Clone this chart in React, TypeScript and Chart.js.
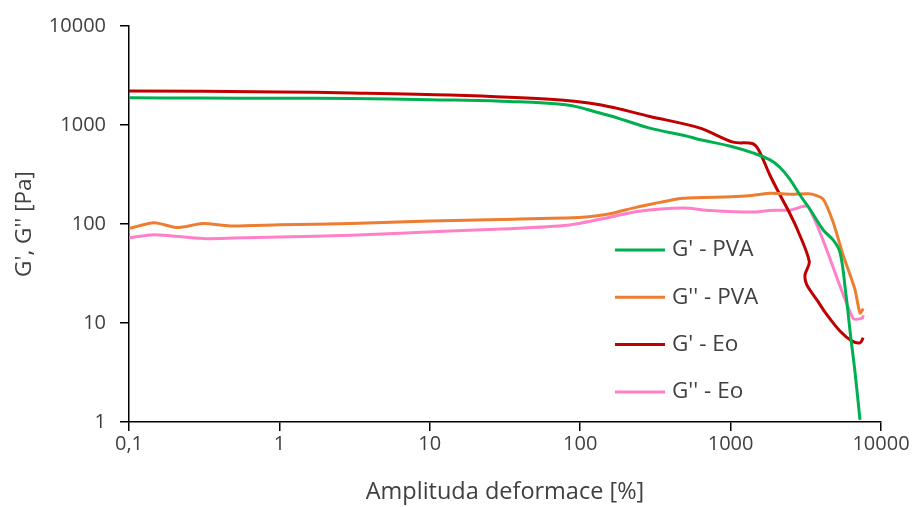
import React, { useEffect, useRef } from "react";
import { Chart, registerables } from "chart.js";

Chart.register(...registerables);

// ---- data ----
const seriesLabels = ["G' - PVA", "G'' - PVA", "G' - Eo", "G'' - Eo"];
const seriesColors = ["#00B050", "#ED7D31", "#C00000", "#FF80C8"];
const seriesTension = [0.4, 0.25, 0.3, 0.25];

const gPvaX = [0.1, 0.3, 1, 3, 10, 30, 80, 135, 200, 290, 500, 630, 1000, 1390, 1830, 2140, 2480, 2900, 3370, 4130, 4800, 5330, 5790, 6300, 6700, 7250];
const gPvaY = [1880, 1870, 1860, 1850, 1800, 1740, 1600, 1320, 1110, 930, 780, 710, 610, 525, 445, 370, 282, 195, 141, 87, 69, 52, 22, 7.1, 3.3, 1.05];

const g2PvaX = [0.1, 0.147, 0.21, 0.31, 0.47, 1, 3, 10, 30, 104, 158, 239, 483, 1000, 1390, 1830, 2500, 3300, 3650, 4130, 4800, 5590, 6700, 7250, 7620];
const g2PvaY = [90, 103, 92, 101, 95.5, 98, 101, 107, 111, 117, 127, 148, 182, 188, 194, 204, 200, 202, 196, 178, 105, 49, 22, 12.6, 14];

const gEoX = [0.1, 1, 3, 13.5, 63, 135, 291, 627, 1038, 1390, 1530, 1830, 2140, 2480, 2770, 3335, 3125, 3206, 3760, 4300, 5330, 6390, 7250, 7620];
const gEoY = [2210, 2160, 2110, 2010, 1820, 1600, 1220, 930, 671, 650, 566, 309, 194, 127, 89, 41.7, 30.7, 24.4, 17, 12.5, 8.3, 6.6, 6.3, 7.1];

const g2EoX = [0.1, 0.147, 0.31, 0.5, 1, 3, 13.5, 30, 82, 158, 239, 483, 730, 1390, 1830, 2480, 3300, 6500, 7500, 7620];
const g2EoY = [72.4, 78, 71.3, 72, 74, 77, 85, 89, 97, 117, 134, 145, 137, 132, 137, 138, 148, 11.2, 11.2, 12];

const xTickValues = [0.1, 1, 10, 100, 1000, 10000];
const xTickLabels = ["0,1", "1", "10", "100", "1000", "10000"];
const yTickValues = [1, 10, 100, 1000, 10000];
const yTickLabels = ["1", "10", "100", "1000", "10000"];

const xTitle = "Amplituda deformace [%]";
const yTitle = "G', G'' [Pa]";

const seriesX = [gPvaX, g2PvaX, gEoX, g2EoX];
const seriesY = [gPvaY, g2PvaY, gEoY, g2EoY];

const FONT = "'Open Sans', 'Liberation Sans', sans-serif";
const TEXT_COLOR = "#404040";

const insideLegend = {
  id: "insideLegend",
  afterDraw(chart: any) {
    const opts = chart.options.plugins.insideLegend;
    const ctx = chart.ctx;
    ctx.save();
    chart.data.datasets.forEach((ds: any, i: number) => {
      const y = opts.top + i * opts.spacing;
      ctx.strokeStyle = ds.borderColor;
      ctx.lineWidth = 3;
      ctx.lineCap = "butt";
      ctx.beginPath();
      ctx.moveTo(opts.x, y);
      ctx.lineTo(opts.x + opts.lineLength, y);
      ctx.stroke();
      ctx.fillStyle = TEXT_COLOR;
      ctx.font = `${opts.fontSize}px ${FONT}`;
      ctx.textBaseline = "middle";
      ctx.textAlign = "left";
      ctx.fillText(ds.label, opts.x + opts.lineLength + opts.gap, y);
    });
    ctx.restore();
  },
};

export default function App() {
  const canvasRef = useRef<HTMLCanvasElement | null>(null);

  useEffect(() => {
    if (!canvasRef.current) return;
    const datasets = seriesLabels.map((label, i) => ({
      label,
      data: seriesX[i].map((x, j) => ({ x, y: seriesY[i][j] })),
      borderColor: seriesColors[i],
      backgroundColor: seriesColors[i],
      borderWidth: 3,
      pointRadius: 0,
      tension: seriesTension[i],
      fill: false,
    }));

    const axisCommon = {
      grid: {
        display: true,
        drawOnChartArea: false,
        drawTicks: true,
        tickLength: 9,
        color: "#000000",
        lineWidth: 1.5,
      },
      border: { display: true, color: "#000000", width: 1.5 },
    };

    const chart = new Chart(canvasRef.current, {
      type: "line",
      data: { datasets },
      plugins: [insideLegend],
      options: {
        animation: false,
        responsive: false,
        maintainAspectRatio: false,
        layout: { padding: { left: 0, top: 22, right: 33, bottom: 0 } },
        plugins: {
          legend: { display: false },
          tooltip: { enabled: false },
          insideLegend: { x: 615, top: 250, spacing: 47.3, lineLength: 50, gap: 7, fontSize: 22.5 },
        } as any,
        scales: {
          x: {
            type: "logarithmic",
            min: 0.1,
            max: 10000,
            ...axisCommon,
            afterBuildTicks: (axis: any) => {
              axis.ticks = xTickValues.map((v) => ({ value: v }));
            },
            afterFit: (axis: any) => {
              axis.height = 85;
            },
            ticks: {
              autoSkip: false,
              maxRotation: 0,
              padding: 1,
              color: TEXT_COLOR,
              font: { family: FONT, size: 20 },
              callback: (v: any) => {
                const idx = xTickValues.indexOf(Number(v));
                return idx >= 0 ? xTickLabels[idx] : null;
              },
            },
            title: {
              display: true,
              text: xTitle,
              color: TEXT_COLOR,
              font: { family: FONT, size: 23.5 },
              padding: { top: 0, bottom: 1 },
            },
          },
          y: {
            type: "logarithmic",
            min: 1,
            max: 10000,
            ...axisCommon,
            afterBuildTicks: (axis: any) => {
              axis.ticks = yTickValues.map((v) => ({ value: v }));
            },
            afterFit: (axis: any) => {
              axis.width = 129;
            },
            ticks: {
              autoSkip: false,
              padding: 14,
              color: TEXT_COLOR,
              font: { family: FONT, size: 20 },
              callback: (v: any) => {
                const idx = yTickValues.indexOf(Number(v));
                return idx >= 0 ? yTickLabels[idx] : null;
              },
            },
            title: {
              display: true,
              text: yTitle,
              color: TEXT_COLOR,
              font: { family: FONT, size: 22.5 },
              padding: { top: 11, bottom: 0 },
            },
          },
        },
      } as any,
    });
    return () => chart.destroy();
  }, []);

  return (
    <div style={{ position: "fixed", left: 0, top: 0, width: 914, height: 507, background: "#ffffff" }}>
      <canvas ref={canvasRef} width={914} height={507} style={{ width: 914, height: 507, display: "block" }} />
    </div>
  );
}
